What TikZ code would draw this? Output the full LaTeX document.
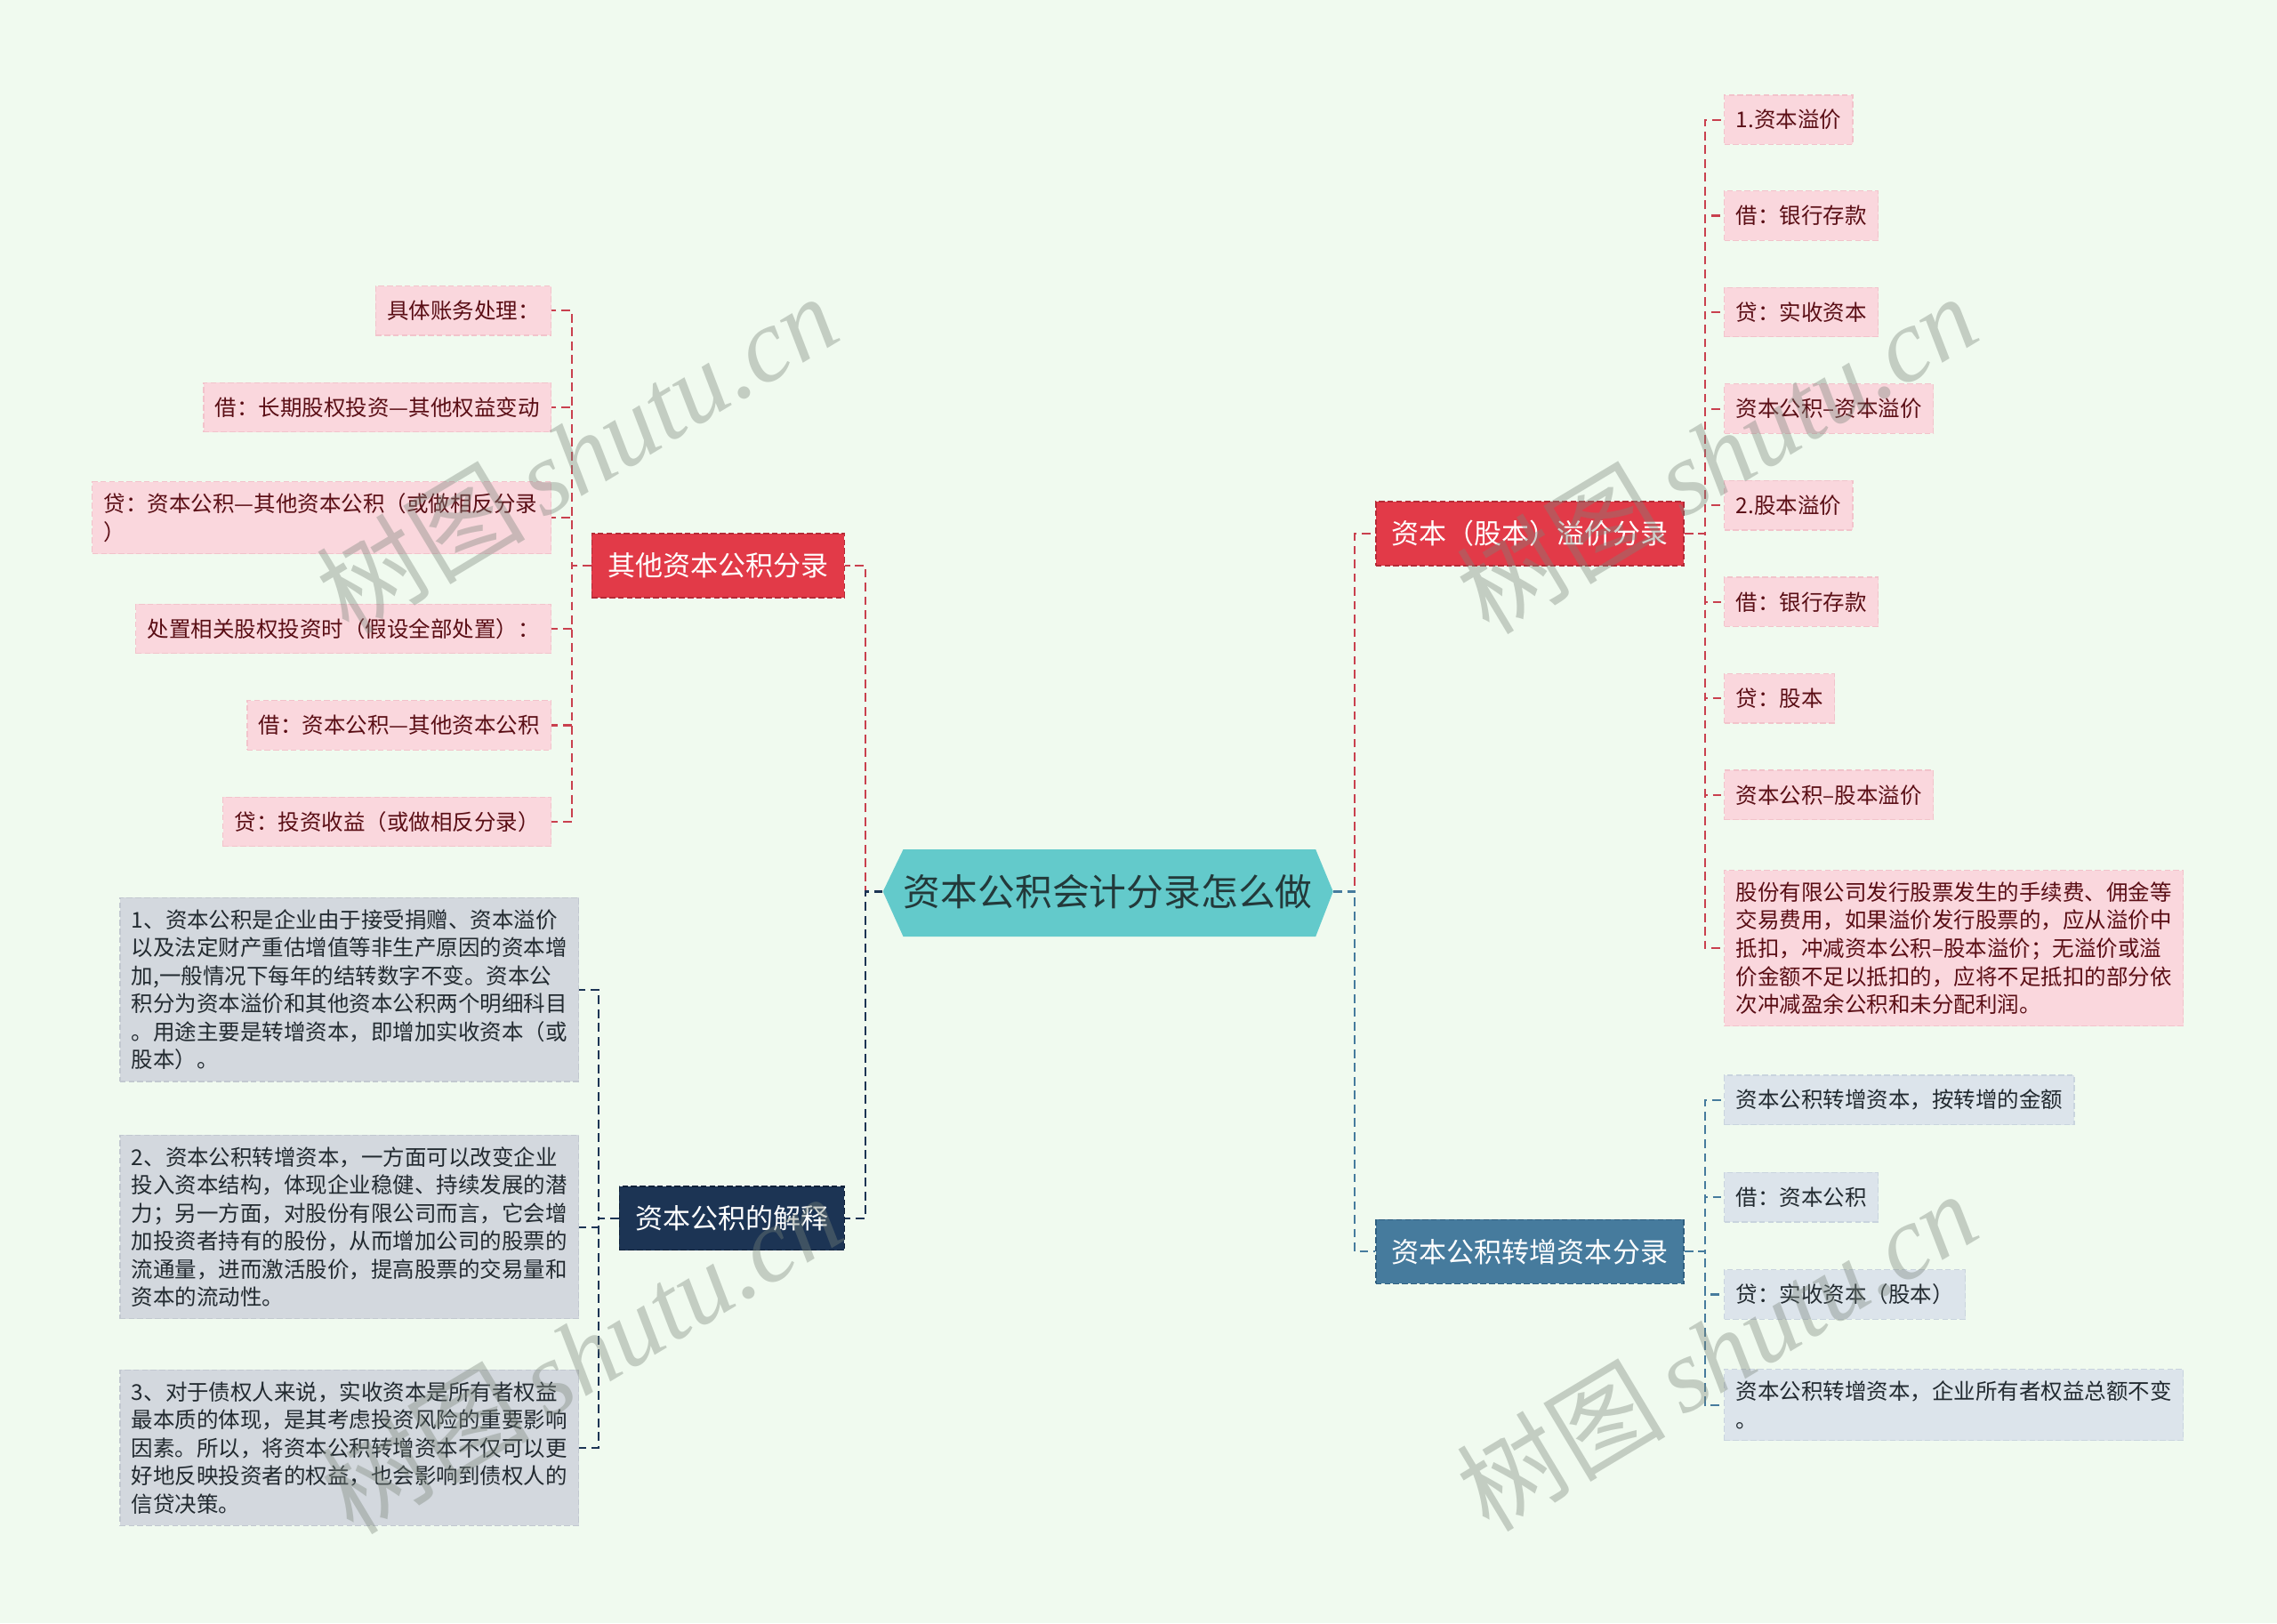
\documentclass[tikz,border=0pt]{standalone}
\usepackage{fontspec}
\setmainfont{Noto Sans CJK SC}
\newfontfamily\wmlatin{Liberation Serif}
\usetikzlibrary{calc}
\definecolor{bgc}{HTML}{F0FAEF}
\definecolor{mainf}{HTML}{63CACB}
\definecolor{maint}{HTML}{23393A}
\definecolor{redf}{HTML}{E23A48}
\definecolor{redb}{HTML}{B52A36}
\definecolor{redl}{HTML}{C9404E}
\definecolor{navyf}{HTML}{1C3454}
\definecolor{navyb}{HTML}{0F2038}
\definecolor{steelf}{HTML}{467B9D}
\definecolor{steelb}{HTML}{2F5F80}
\definecolor{pinkf}{HTML}{FAD7DD}
\definecolor{pinkb}{HTML}{F2C3CB}
\definecolor{pinkt}{HTML}{5A0E15}
\definecolor{greyf}{HTML}{D3D8DE}
\definecolor{greyb}{HTML}{C2C8D0}
\definecolor{bluef}{HTML}{DCE4EB}
\definecolor{blueb}{HTML}{C9D4DE}
\definecolor{leaft}{HTML}{222A30}
\definecolor{wmc}{HTML}{7A857A}
\tikzset{
  conn/.style={line width=1.3pt, dash pattern=on 6pt off 3.5pt},
  branchbox/.style={font=\fontsize{19}{23}\selectfont, text=white, inner xsep=11pt, inner ysep=0pt,
     minimum height=44pt, line width=0.9pt, dash pattern=on 4pt off 2pt},
  leafbox/.style={font=\fontsize{15}{19.3}\selectfont, inner xsep=8pt, inner ysep=8pt,
     minimum height=34pt, align=left, line width=0.8pt, dash pattern=on 4pt off 2pt},
  pinkleaf/.style={leafbox, fill=pinkf, draw=pinkb, text=pinkt},
  greyleaf/.style={leafbox, fill=greyf, draw=greyb, text=leaft},
  blueleaf/.style={leafbox, fill=bluef, draw=blueb, text=leaft},
  wm/.style={text=wmc, opacity=0.38, rotate=31, inner sep=0pt}
}
\begin{document}
\begin{tikzpicture}[x=1pt,y=-1pt]
\useasboundingbox (0,0) rectangle (1568,1118);
\fill[bgc] (0,0) rectangle (1568,1118);

% main node
\fill[mainf] (608,614) -- (622,585) -- (906,585) -- (918,614) -- (906,645) -- (622,645) -- cycle;
\node[minimum width=310pt, minimum height=60pt, inner sep=0pt, text=maint,
      font=\fontsize{25.6}{30}\selectfont] (main) at (763,614) {资本公积会计分录怎么做};

% branches
\node[branchbox, fill=redf, draw=redb, anchor=east] (b1) at (582,389.5) {其他资本公积分录};
\node[branchbox, fill=navyf, draw=navyb, anchor=east] (b2) at (582,839) {资本公积的解释};
\node[branchbox, fill=redf, draw=redb, anchor=west] (b3) at (947,367.5) {资本（股本）溢价分录};
\node[branchbox, fill=steelf, draw=steelb, anchor=west] (b4) at (947,862) {资本公积转增资本分录};

% spines
\coordinate (ml) at (596,0);
\coordinate (mr) at (933,0);
\coordinate (s1) at (394,0);
\coordinate (s2) at (412,0);
\coordinate (s3) at (1174,0);
\coordinate (s4) at (1174,0);

% leaves of b1
\node[pinkleaf, anchor=east] (a1) at (380,214) {具体账务处理：};
\node[pinkleaf, anchor=east] (a2) at (380,280.5) {借：长期股权投资—其他权益变动};
\node[pinkleaf, anchor=east, text width=300pt] (a3) at (380,356.5) {贷：资本公积—其他资本公积（或做相反分录\\）};
\node[pinkleaf, anchor=east] (a4) at (380,433) {处置相关股权投资时（假设全部处置）：};
\node[pinkleaf, anchor=east] (a5) at (380,499.5) {借：资本公积—其他资本公积};
\node[pinkleaf, anchor=east] (a6) at (380,566) {贷：投资收益（或做相反分录）};

% leaves of b2
\node[greyleaf, anchor=east, text width=300pt] (c1) at (399,681.5) {1、资本公积是企业由于接受捐赠、资本溢价\\以及法定财产重估增值等非生产原因的资本增\\加,一般情况下每年的结转数字不变。资本公\\积分为资本溢价和其他资本公积两个明细科目\\。用途主要是转增资本，即增加实收资本（或\\股本）。};
\node[greyleaf, anchor=east, text width=300pt] (c2) at (399,845) {2、资本公积转增资本，一方面可以改变企业\\投入资本结构，体现企业稳健、持续发展的潜\\力；另一方面，对股份有限公司而言，它会增\\加投资者持有的股份，从而增加公司的股票的\\流通量，进而激活股价，提高股票的交易量和\\资本的流动性。};
\node[greyleaf, anchor=east, text width=300pt] (c3) at (399,997) {3、对于债权人来说，实收资本是所有者权益\\最本质的体现，是其考虑投资风险的重要影响\\因素。所以，将资本公积转增资本不仅可以更\\好地反映投资者的权益，也会影响到债权人的\\信贷决策。};

% leaves of b3
\node[pinkleaf, anchor=west] (d1) at (1187,82.5) {1.资本溢价};
\node[pinkleaf, anchor=west] (d2) at (1187,148.5) {借：银行存款};
\node[pinkleaf, anchor=west] (d3) at (1187,215) {贷：实收资本};
\node[pinkleaf, anchor=west] (d4) at (1187,281.5) {资本公积–资本溢价};
\node[pinkleaf, anchor=west] (d5) at (1187,348) {2.股本溢价};
\node[pinkleaf, anchor=west] (d6) at (1187,414.5) {借：银行存款};
\node[pinkleaf, anchor=west] (d7) at (1187,481) {贷：股本};
\node[pinkleaf, anchor=west] (d8) at (1187,547.5) {资本公积–股本溢价};
\node[pinkleaf, anchor=west, text width=300pt] (d9) at (1187,653) {股份有限公司发行股票发生的手续费、佣金等\\交易费用，如果溢价发行股票的，应从溢价中\\抵扣，冲减资本公积–股本溢价；无溢价或溢\\价金额不足以抵扣的，应将不足抵扣的部分依\\次冲减盈余公积和未分配利润。};

% leaves of b4
\node[blueleaf, anchor=west] (e1) at (1187,757.5) {资本公积转增资本，按转增的金额};
\node[blueleaf, anchor=west] (e2) at (1187,824.5) {借：资本公积};
\node[blueleaf, anchor=west] (e3) at (1187,891.5) {贷：实收资本（股本）};
\node[blueleaf, anchor=west, text width=300pt] (e4) at (1187,967.5) {资本公积转增资本，企业所有者权益总额不变\\。};

% main connectors
\draw[conn, redl] (main.west) -| (ml |- b1.east) -- (b1.east);
\draw[conn, navyf] (main.west) -| (ml |- b2.east) -- (b2.east);
\draw[conn, redl] (main.east) -| (mr |- b3.west) -- (b3.west);
\draw[conn, steelf] (main.east) -| (mr |- b4.west) -- (b4.west);

% leaf connectors
\foreach \n in {a1,a2,a3,a4,a5,a6}
  \draw[conn, redl] (b1.west) -| (s1 |- \n.east) -- (\n.east);
\foreach \n in {c1,c2,c3}
  \draw[conn, navyf] (b2.west) -| (s2 |- \n.east) -- (\n.east);
\foreach \n in {d1,d2,d3,d4,d5,d6,d7,d8,d9}
  \draw[conn, redl] (b3.east) -| (s3 |- \n.west) -- (\n.west);
\foreach \n in {e1,e2,e3,e4}
  \draw[conn, steelf] (b4.east) -| (s4 |- \n.west) -- (\n.west);

% watermarks
\foreach \p/\q in {w1/{(397,312)}, w2/{(1182,312)}, w3/{(400,932)}, w4/{(1182,930)}}
  \node[wm] (\p) at \q {\fontsize{72}{80}\selectfont 树图\,{\wmlatin\itshape shutu.cn}};
\end{tikzpicture}
\end{document}
